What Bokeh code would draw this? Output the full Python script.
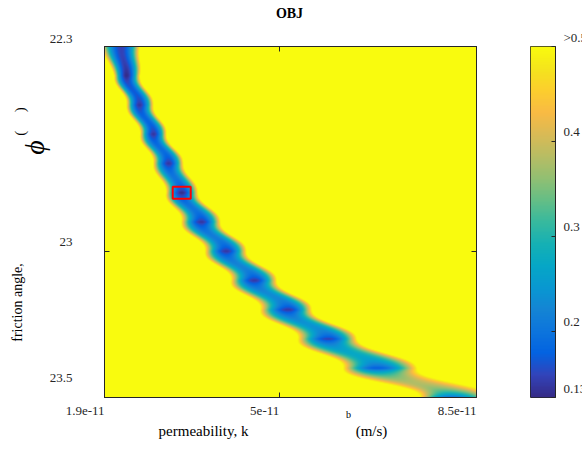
import numpy as np
from bokeh.plotting import figure
from bokeh.layouts import row, column
from bokeh.models import (Range1d, LinearColorMapper, FixedTicker, Label, LinearAxis,
                          CustomJSTickFormatter)
from bokeh.embed import file_html
from bokeh.resources import INLINE

# ---------------- data ----------------
# friction angle rows (deg) of the objective grid
phi_rows = [22.3, 22.4, 22.5, 22.6, 22.7, 22.8, 22.9, 23.0, 23.1, 23.2, 23.3, 23.4, 23.5]
# permeability (x 1e-11 m/s) of the valley minimum on each row
k_center = [2.20, 2.29, 2.52, 2.77, 3.04, 3.27, 3.62, 4.06, 4.56, 5.16, 5.87, 6.73, 8.04]
# permeability where the objective reaches 0.5 left / right of the minimum
k_left = [1.84, 2.07, 2.29, 2.53, 2.76, 2.99, 3.26, 3.68, 4.14, 4.66, 5.33, 6.13, 7.50]
k_right = [2.53, 2.53, 2.77, 3.00, 3.30, 3.56, 3.96, 4.42, 4.96, 5.58, 6.38, 7.45, 8.75]
# minimum objective value on each row
obj_min = [0.15, 0.13, 0.14, 0.14, 0.14, 0.13, 0.14, 0.14, 0.14, 0.14, 0.15, 0.17, 0.19]
# valley floor half-way between consecutive rows
obj_mid = [0.15, 0.17, 0.18, 0.19, 0.20, 0.20, 0.21, 0.22, 0.23, 0.24, 0.27, 0.38]
# best fit (red box)
best_k = [3.27]
best_phi = [22.8]

x_ticks = [1.9, 5.0, 8.5]
x_tick_labels = ["1.9e-11", "5e-11", "8.5e-11"]
y_ticks = [22.3, 23.0, 23.5]
y_tick_labels = ["22.3", "23", "23.5"]
cb_ticks = [0.13, 0.2, 0.3, 0.4, 0.5]
cb_tick_labels = ["0.13", "0.2", "0.3", "0.4", ">0.5"]
cb_low, cb_high = 0.13, 0.5
k_min, k_max = 1.9, 8.5
phi_min, phi_max = 22.3, 23.5

# ---------------- colormap (parula) ----------------
parula_anchors = [
    (0.2081, 0.1663, 0.5292), (0.1959, 0.2645, 0.7279), (0.0117, 0.3875, 0.8820),
    (0.0498, 0.4586, 0.8641), (0.0793, 0.5200, 0.8312), (0.0343, 0.5966, 0.8199),
    (0.0228, 0.6535, 0.7768), (0.0843, 0.6928, 0.7062), (0.2178, 0.7250, 0.6193),
    (0.3953, 0.7459, 0.5244), (0.5709, 0.7485, 0.4494), (0.7184, 0.7411, 0.3905),
    (0.8507, 0.7299, 0.3360), (0.9739, 0.7314, 0.2666), (0.9880, 0.8066, 0.1794),
    (0.9589, 0.8949, 0.1132), (0.9763, 0.9831, 0.0538)]
anc = np.array(parula_anchors)
pos_a = np.linspace(0, 1, len(anc))
palette = []
for t in np.linspace(0, 1, 256):
    rgb = [int(round(np.interp(t, pos_a, anc[:, i]) * 255)) for i in range(3)]
    palette.append("#%02x%02x%02x" % tuple(rgb))

mapper = LinearColorMapper(palette=palette, low=cb_low, high=cb_high,
                           low_color=palette[0], high_color=palette[-1])

# ---------------- field: valley parameters interpolated between the rows ----------------
nx, ny = 372, 351
xs = k_min + (np.arange(nx) + 0.5) * (k_max - k_min) / nx
phis = phi_max - (np.arange(ny) + 0.5) * (phi_max - phi_min) / ny
power = 2.0
Z = np.zeros((ny, nx))
for j, ph in enumerate(phis):
    f = np.interp(ph, phi_rows, np.arange(len(phi_rows)))
    r0 = min(int(np.floor(f)), len(phi_rows) - 2)
    r1 = r0 + 1
    w = f - r0
    s = w ** 3 * (w * (6 * w - 15) + 10)
    c = k_center[r0] + (k_center[r1] - k_center[r0]) * s
    hl = (k_center[r0] - k_left[r0]) * (1 - w) + (k_center[r1] - k_left[r1]) * w
    hr = (k_right[r0] - k_center[r0]) * (1 - w) + (k_right[r1] - k_center[r1]) * w
    m0, m1, mm = obj_min[r0], obj_min[r1], obj_mid[r0]
    m = m0 * (1 - w) + m1 * w + 4 * w * (1 - w) * (mm - 0.5 * (m0 + m1))
    t = np.where(xs < c, (c - xs) / hl, (xs - c) / hr)
    Z[j] = np.minimum(m + (cb_high - m) * t ** power, cb_high)

FONT = "Liberation Serif"
AX = "#262626"
blank = CustomJSTickFormatter(code="return ''")

def style_axis(ax, tick_in=5):
    ax.major_tick_in = tick_in
    ax.major_tick_out = 0
    ax.minor_tick_line_color = None
    ax.axis_line_color = AX
    ax.major_tick_line_color = AX
    ax.formatter = blank
    ax.major_label_standoff = 0
    ax.major_label_text_font_size = "0px"

# every figure in the middle row: frame from page y 46 to 397
ROW_H = 353
BT, BB = 1, 1

# ---------------- main heat map (frame at page x 104..476) ----------------
p = figure(width=388, height=ROW_H, x_range=Range1d(k_min, k_max), y_range=Range1d(-phi_max, -phi_min),
           min_border_left=8, min_border_right=8, min_border_top=BT, min_border_bottom=BB,
           toolbar_location=None, output_backend="svg", tools="")
p.grid.visible = False
p.outline_line_color = AX
p.image(image=[Z], x=k_min, y=-phi_max, dw=k_max - k_min, dh=phi_max - phi_min, color_mapper=mapper)
p.rect(x=best_k, y=[-v for v in best_phi], width=18, height=12, width_units="screen",
       height_units="screen", fill_alpha=0, line_color="#ff0000", line_width=2)
p.xaxis.ticker = FixedTicker(ticks=x_ticks)
p.yaxis.ticker = FixedTicker(ticks=[-v for v in y_ticks])
style_axis(p.xaxis[0]); style_axis(p.yaxis[0])
top_ax = LinearAxis(ticker=FixedTicker(ticks=x_ticks)); style_axis(top_ax)
right_ax = LinearAxis(ticker=FixedTicker(ticks=[-v for v in y_ticks])); style_axis(right_ax)
p.add_layout(top_ax, "above"); p.add_layout(right_ax, "right")

# page position of a tick (for text placement in the text strips)
def k_px(k):
    return 104 + (k - k_min) / (k_max - k_min) * 372

def phi_py(ph):
    return 46 + (ph - phi_min) / (phi_max - phi_min) * 351

def cb_py(v):
    return 46 + (cb_high - v) / (cb_high - cb_low) * 351

# ---------------- text strips (data units = page pixels) ----------------
def strip(x0p, x1p, y0p, y1p, bt=0, bb=0):
    s = figure(width=x1p - x0p, height=y1p - y0p + bt + bb, x_range=Range1d(x0p, x1p),
               y_range=Range1d(y1p, y0p), min_border=0, min_border_top=bt, min_border_bottom=bb,
               x_axis_location=None, y_axis_location=None, toolbar_location=None,
               output_backend="svg", tools="")
    s.grid.visible = False
    s.outline_line_color = None
    return s

def txt(fig, x, y, text, size="13px", align="center", color="black", style="normal",
        angle=0.0, font=FONT):
    fig.add_layout(Label(x=x, y=y, text=text, text_align=align, text_baseline="middle",
                         angle=angle, text_font=font, text_font_size=size,
                         text_font_style=style, text_color=color))

# top strip: page y 0..45
top = strip(0, 582, 0, 45)
txt(top, 289, 13, "OBJ", size="14px", style="bold")
txt(top, 72, phi_py(y_ticks[0]) - 8, y_tick_labels[0], align="right", color=AX)
txt(top, 563, cb_py(cb_ticks[-1]) - 9, cb_tick_labels[-1], align="left", color=AX)

# left strip: frame page y 46..397
left = strip(0, 96, 46, 397, BT, BB)
y_lift = [8, 9, 20]
for v, t, o in list(zip(y_ticks, y_tick_labels, y_lift))[1:]:
    txt(left, 72, phi_py(v) - o, t, align="right", color=AX)
txt(left, 17, 302, "friction angle,", size="14px", angle=np.pi / 2)
txt(left, 34, 147, "\u03d5", size="28px", style="italic", angle=np.pi / 2)
txt(left, 19, 121, "(\u00a0\u00a0\u00a0\u00a0\u00a0)", size="15px", angle=np.pi / 2)

# ---------------- colour bar (bar at page x 530..555) ----------------
pc = figure(width=72, height=ROW_H, x_range=Range1d(0, 1), y_range=Range1d(cb_low, cb_high),
            min_border_left=46, min_border_right=1, min_border_top=BT, min_border_bottom=BB,
            x_axis_location=None, y_axis_location=None,
            toolbar_location=None, output_backend="svg", tools="")
pc.grid.visible = False
pc.outline_line_color = AX
grad = np.linspace(cb_low, cb_high, 256).reshape(256, 1)
pc.image(image=[grad], x=0, y=cb_low, dw=1, dh=cb_high - cb_low, color_mapper=mapper)
cb_ax = LinearAxis(ticker=FixedTicker(ticks=cb_ticks)); style_axis(cb_ax, tick_in=4)
pc.add_layout(cb_ax, "right")

cbl = strip(556, 582, 46, 397, BT, BB)
for v, t in list(zip(cb_ticks, cb_tick_labels))[:-1]:
    txt(cbl, 563, cb_py(v) - 9, t, align="left", color=AX)

# bottom strip: page y 398..467
bottom = strip(0, 582, 398, 467)
for v, t in zip(x_ticks, x_tick_labels):
    txt(bottom, k_px(v), 410, t, align="right", color=AX)
txt(bottom, 203, 430, "permeability, k", size="15px")
txt(bottom, 348, 414, "b", size="10px")
txt(bottom, 371, 430, "(m/s)", size="15px")

layout = column(top, row(left, p, pc, cbl), bottom)
open("out.html", "w").write(file_html(layout, INLINE))
